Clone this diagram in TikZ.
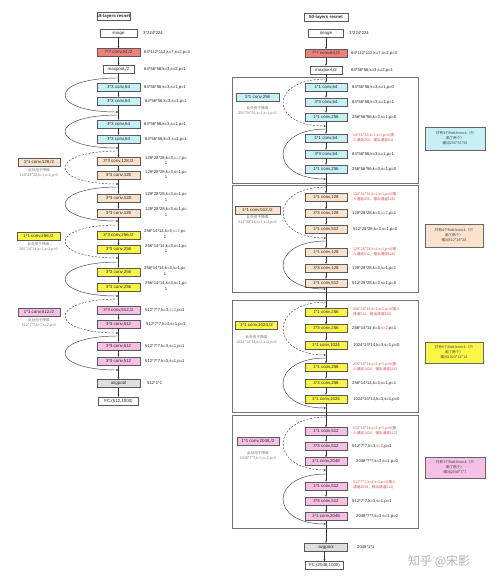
\documentclass[tikz,border=0pt]{standalone}
\usepackage{fontspec}
\setmainfont{Liberation Sans}
\newfontfamily\cjk{Noto Sans CJK SC}
\usetikzlibrary{arrows.meta}
\definecolor{cRed}{RGB}{240,128,128}
\definecolor{cCyan}{RGB}{198,240,245}
\definecolor{cOrg}{RGB}{250,226,204}
\definecolor{cYel}{RGB}{250,246,70}
\definecolor{cPink}{RGB}{245,192,228}
\definecolor{cGray}{RGB}{222,222,222}
\definecolor{tRed}{RGB}{215,80,80}
\definecolor{tGray}{RGB}{120,120,120}
\newcommand\fsA{\fontsize{4.4}{5}\selectfont}
\newcommand\fsB{\fontsize{4.2}{5.2}\selectfont}
\newcommand\fsC{\fontsize{3.6}{5}\selectfont}
\newcommand\rs[1]{\textcolor{tRed}{#1}}
\begin{document}
\begin{tikzpicture}[x=1pt,y=-1pt,
  blk/.style={draw=black!65, line width=0.4pt, minimum height=8pt, inner sep=0pt, font=\fsA, text=black!85},
  wb/.style={blk, fill=white},
  rb/.style={blk, fill=cRed, minimum width=43pt},
  cb/.style={blk, fill=cCyan, minimum width=43pt},
  ob/.style={blk, fill=cOrg, minimum width=43pt},
  yb/.style={blk, fill=cYel, minimum width=43pt},
  pb/.style={blk, fill=cPink, minimum width=43pt},
  gb/.style={blk, fill=cGray, minimum width=43pt},
  lbl/.style={anchor=west, font=\fsB, inner sep=0pt, text=black!85, align=center},
  rlbl/.style={anchor=west, font=\fsC\cjk, inner sep=0pt, text=tRed, align=left},
  side/.style={font=\fsC\cjk, inner sep=0pt, text=tGray, align=center},
  note/.style={draw=black!60, line width=0.4pt, font=\fsC\cjk, align=center, inner sep=1pt, text=black!75},
  grp/.style={draw=black!55, line width=0.5pt},
  arr/.style={-{Stealth[length=2.2pt,width=1.8pt]}, line width=0.4pt, draw=black!80},
  skp/.style={-{Stealth[length=2.4pt,width=2pt]}, line width=0.45pt, draw=black!75},
  dskp/.style={skp, dash pattern=on 2pt off 1.5pt}
]
\useasboundingbox (0,0) rectangle (500,584);
\fill[white] (0,0) rectangle (500,584);

% ================= LEFT: 18 layers =================
\node[wb, minimum width=33pt, minimum height=8pt, font=\fsA\bfseries] (Lt) at (113.5,16.5) {18-layers resnet};
\node[wb, minimum width=37pt] (Li) at (118.5,33) {image};
\node[rb] (Lc7) at (118.5,52.5) {7*7 conv,64,/2};
\node[wb, minimum width=31pt] (Lmp) at (118.5,69.5) {maxpool,/2};
\node[cb] (La1) at (118.5,87) {3*3 conv,64};
\node[cb] (La2) at (118.5,101) {3*3 conv,64};
\node[cb] (La3) at (118.5,124) {3*3 conv,64};
\node[cb] (La4) at (118.5,139) {3*3 conv,64};
\node[ob] (Lb1) at (118.5,161.5) {3*3 conv,128,/2};
\node[ob] (Lb2) at (118.5,175.5) {3*3 conv,128};
\node[ob] (Lb3) at (118.5,198) {3*3 conv,128};
\node[ob] (Lb4) at (118.5,213) {3*3 conv,128};
\node[yb] (Lc1) at (118.5,235) {3*3 conv,256,/2};
\node[yb] (Lc2) at (118.5,249.5) {3*3 conv,256};
\node[yb] (Lc3) at (118.5,272) {3*3 conv,256};
\node[yb] (Lc4) at (118.5,287) {3*3 conv,256};
\node[pb] (Ld1) at (118.5,310) {3*3 conv,512,/2};
\node[pb] (Ld2) at (118.5,324) {3*3 conv,512};
\node[pb] (Ld3) at (118.5,346) {3*3 conv,512};
\node[pb] (Ld4) at (118.5,361) {3*3 conv,512};
\node[gb] (Lap) at (118.5,383.5) {avgpool};
\node[wb, minimum width=40pt] (Lfc) at (118.5,401) {FC,(512,1000)};

\foreach \a/\b in {Li/Lc7,Lc7/Lmp,Lmp/La1,La1/La2,La2/La3,La3/La4,La4/Lb1,Lb1/Lb2,Lb2/Lb3,Lb3/Lb4,Lb4/Lc1,Lc1/Lc2,Lc2/Lc3,Lc3/Lc4,Lc4/Ld1,Ld1/Ld2,Ld2/Ld3,Ld3/Ld4,Ld4/Lap,Lap/Lfc}
  \draw[arr] (\a) -- (\b);

% labels
\node[lbl] (lLi) at (143,33) {3*224*224};
\node[lbl] (lLc7) at (144,52.5) {64*112*112,k=7,s=2,p=3};
\node[lbl] (lLmp) at (144,69.5) {64*56*56,k=3,s=2,p=1};
\node[lbl] (lLa1) at (144,87) {64*56*56,k=3,s=1,p=1};
\node[lbl] (lLa2) at (145,101) {64*56*56,k=3,s=1,p=1};
\node[lbl] (lLa3) at (144,124) {64*56*56,k=3,s=1,p=1};
\node[lbl] (lLa4) at (145,139) {64*56*56,k=3,s=1,p=1};
\node[lbl] (lLb1) at (145,160.5) {128*28*28,k=3,\rs{s=2},p=\\1};
\node[lbl] (lLb2) at (145,174.5) {128*28*28,k=3,s=1,p=\\1};
\node[lbl] (lLb3) at (145,197) {128*28*28,k=3,s=1,p=\\1};
\node[lbl] (lLb4) at (145,212) {128*28*28,k=3,s=1,p=\\1};
\node[lbl] (lLc1) at (144,234) {256*14*14,k=3,\rs{s=2},p=\\1};
\node[lbl] (lLc2) at (145,248.5) {256*14*14,k=3,s=1,p=\\1};
\node[lbl] (lLc3) at (144,271) {256*14*14,k=3,s=1,p=\\1};
\node[lbl] (lLc4) at (145,286) {256*14*14,k=3,s=1,p=\\1};
\node[lbl] (lLd1) at (145,310) {512*7*7,k=3,\rs{s=2},p=1};
\node[lbl] (lLd2) at (146,324) {512*7*7,k=3,s=1,p=1};
\node[lbl] (lLd3) at (145,346) {512*7*7,k=3,s=1,p=1};
\node[lbl] (lLd4) at (145,361) {512*7*7,k=3,s=1,p=1};
\node[lbl] (lLap) at (147,383.5) {512*1*1};

% side boxes
\node[ob, minimum width=42pt] (Ls1) at (39,162) {1*1 conv,128,/2};
\node[side] (Ls1t) at (39,172.5) {此处用于降维\\128*28*28,k=1,s=2,p=0};
\node[yb, minimum width=43pt] (Ls2) at (38.5,236.5) {1*1 conv,256,/2};
\node[side] (Ls2t) at (38.5,247) {此处用于降维\\256*14*14,k=1,s=2,p=0};
\node[pb, minimum width=42pt] (Ls3) at (39,312) {1*1 conv,512,/2};
\node[side] (Ls3t) at (39,323) {此处用于降维\\512*7*7,k=1,s=2,p=0};

% skip curves left
\coordinate (k1s) at (118.5,78);  \coordinate (k1e) at (118.5,112);
\coordinate (k2s) at (118.5,115); \coordinate (k2e) at (118.5,148);
\coordinate (k3s) at (118.5,151); \coordinate (k3e) at (118.5,184);
\coordinate (k4s) at (118.5,187); \coordinate (k4e) at (118.5,221);
\coordinate (k5s) at (118.5,225); \coordinate (k5e) at (118.5,258);
\coordinate (k6s) at (118.5,262); \coordinate (k6e) at (118.5,296);
\coordinate (k7s) at (118.5,299); \coordinate (k7e) at (118.5,333);
\coordinate (k8s) at (118.5,336); \coordinate (k8e) at (118.5,370);
\draw[skp]  (k1s) .. controls +(-71,0) and +(-71,0) .. (k1e);
\draw[skp]  (k2s) .. controls +(-71,0) and +(-71,0) .. (k2e);
\draw[dskp] (k3s) .. controls +(-71,0) and +(-71,0) .. (k3e);
\draw[skp]  (k4s) .. controls +(-71,0) and +(-71,0) .. (k4e);
\draw[dskp] (k5s) .. controls +(-71,0) and +(-71,0) .. (k5e);
\draw[skp]  (k6s) .. controls +(-71,0) and +(-71,0) .. (k6e);
\draw[dskp] (k7s) .. controls +(-71,0) and +(-71,0) .. (k7e);
\draw[skp]  (k8s) .. controls +(-71,0) and +(-71,0) .. (k8e);

% ================= RIGHT: 50 layers =================
\draw[grp] (232,77) rectangle (418,183);
\draw[grp] (232,185) rectangle (418,292);
\draw[grp] (232,300) rectangle (418,412);
\draw[grp] (232,415) rectangle (418,528);

\node[wb, minimum width=44pt, font=\fsA\bfseries] (Rt) at (326,17) {50-layers resnet};
\node[wb, minimum width=35pt] (Ri) at (326,33) {image};
\node[rb, minimum width=42pt] (Rc7) at (326,53.5) {7*7 conv,64,/2};
\node[wb, minimum width=32pt] (Rmp) at (326,70) {maxpool,/2};

\node[cb, minimum width=42pt] (Ra1) at (326,87) {1*1 conv,64};
\node[cb, minimum width=42pt] (Ra2) at (326,102) {3*3 conv,64};
\node[cb, minimum width=42pt] (Ra3) at (326,117) {1*1 conv,256};
\node[cb, minimum width=42pt] (Ra4) at (326,138) {1*1 conv,64};
\node[cb, minimum width=42pt] (Ra5) at (326,154) {3*3 conv,64};
\node[cb, minimum width=42pt] (Ra6) at (326,169) {1*1 conv,256};

\node[ob, minimum width=42pt] (Rb1) at (326,197.5) {1*1 conv,128};
\node[ob, minimum width=42pt] (Rb2) at (326,213.5) {3*3 conv,128};
\node[ob, minimum width=42pt] (Rb3) at (326,229) {1*1 conv,512};
\node[ob, minimum width=42pt] (Rb4) at (326,252.5) {1*1 conv,128};
\node[ob, minimum width=42pt] (Rb5) at (326,268) {3*3 conv,128};
\node[ob, minimum width=42pt] (Rb6) at (326,283) {1*1 conv,512};

\node[yb, minimum width=42pt] (Rc1) at (326,312.5) {1*1 conv,256};
\node[yb, minimum width=42pt] (Rc2) at (326,328.5) {3*3 conv,256};
\node[yb, minimum width=42pt] (Rc3) at (326,345) {1*1 conv,1024};
\node[yb, minimum width=42pt] (Rc4) at (326,367.5) {1*1 conv,256};
\node[yb, minimum width=42pt] (Rc5) at (326,383) {3*3 conv,256};
\node[yb, minimum width=42pt] (Rc6) at (326,399) {1*1 conv,1024};

\node[pb, minimum width=42pt] (Rd1) at (326,431.5) {1*1 conv,512};
\node[pb, minimum width=42pt] (Rd2) at (326,446) {3*3 conv,512};
\node[pb, minimum width=42pt] (Rd3) at (326,461.5) {1*1 conv,2048};
\node[pb, minimum width=42pt] (Rd4) at (326,486) {1*1 conv,512};
\node[pb, minimum width=42pt] (Rd5) at (326,501) {3*3 conv,512};
\node[pb, minimum width=42pt] (Rd6) at (326,516.5) {1*1 conv,2048};

\node[gb, minimum width=43pt] (Rap) at (326,547) {avgpool};
\node[wb, minimum width=38pt] (Rfc) at (324.5,565.5) {FC,(2048,1000)};

\foreach \a/\b in {Ri/Rc7,Rc7/Rmp,Rmp/Ra1,Ra1/Ra2,Ra2/Ra3,Ra3/Ra4,Ra4/Ra5,Ra5/Ra6,Ra6/Rb1,Rb1/Rb2,Rb2/Rb3,Rb3/Rb4,Rb4/Rb5,Rb5/Rb6,Rb6/Rc1,Rc1/Rc2,Rc2/Rc3,Rc3/Rc4,Rc4/Rc5,Rc5/Rc6,Rc6/Rd1,Rd1/Rd2,Rd2/Rd3,Rd3/Rd4,Rd4/Rd5,Rd5/Rd6,Rd6/Rap}
  \draw[arr] (\a) -- (\b);
\draw[arr] (Rap.south -| Rfc.north) -- (Rfc.north);

% labels right
\node[lbl] (lRi) at (349,33) {3*224*224};
\node[lbl] (lRc7) at (351,53.5) {64*112*112,k=7,s=2,p=3};
\node[lbl] (lRmp) at (351,70) {64*56*56,k=3,s=2,p=1};
\node[lbl] (lRa1) at (352,87) {64*56*56,k=3,s=1,p=0};
\node[lbl] (lRa2) at (352,102) {64*56*56,k=3,s=1,p=1};
\node[lbl] (lRa3) at (352,117) {256*56*56,k=3,s=1,p=0};
\node[rlbl] (lRa4) at (353,138) {64*56*56,k=1,s=1,p=0(输\\入通道256，输出通道64)};
\node[lbl] (lRa5) at (352,154) {64*56*56,k=3,s=1,p=1};
\node[lbl] (lRa6) at (352,169) {256*56*56,k=3,s=1,p=0};

\node[rlbl] (lRb1) at (353,196.5) {128*56*56,k=1,s=1,p=0(输\\入通道256，输出通道128)};
\node[lbl] (lRb2) at (352,213.5) {128*28*28,k=3,\rs{s=2},p=1};
\node[lbl] (lRb3) at (353,229) {512*28*28,k=3,s=1,p=0};
\node[rlbl] (lRb4) at (353,251.5) {128*28*28,k=1,s=1,p=0(输\\入通道512，输出通道128)};
\node[lbl] (lRb5) at (352,268) {128*28*28,k=3,s=1,p=1};
\node[lbl] (lRb6) at (352,283) {512*28*28,k=3,s=1,p=0};

\node[rlbl] (lRc1) at (353,311.5) {256*28*28,k=1,s=1,p=0(输入\\通道512，输出通道256)};
\node[lbl] (lRc2) at (352,328.5) {256*14*14,k=3,\rs{s=2},p=1};
\node[lbl] (lRc3) at (353,345) {1024*14*14,k=3,s=1,p=0};
\node[rlbl] (lRc4) at (353,366.5) {256*14*14,k=1,s=1,p=0(输\\入通道1024，输出通道256)};
\node[lbl] (lRc5) at (352,383) {256*14*14,k=3,s=1,p=1};
\node[lbl] (lRc6) at (353,399) {1024*14*14,k=3,s=1,p=0};

\node[rlbl] (lRd1) at (353,430.5) {512*14*14,k=1,s=1,p=0(输\\入通道1024，输出通道512)};
\node[lbl] (lRd2) at (352,446) {512*7*7,k=3,\rs{s=2},p=1};
\node[lbl] (lRd3) at (356,461.5) {2048*7*7,k=3,s=1,p=0};
\node[rlbl] (lRd4) at (353,485) {512*7*7,k=1,s=1,p=0(输入\\通道2048，输出通道512)};
\node[lbl] (lRd5) at (352,501) {512*7*7,k=3,s=1,p=1};
\node[lbl] (lRd6) at (356,516.5) {2048*7*7,k=3,s=1,p=0};
\node[lbl] (lRap) at (357,547) {2048*1*1};

% side boxes right
\node[cb, minimum width=43pt] (Rs1) at (257.5,97) {1*1 conv,256};
\node[side] (Rs1t) at (257.5,110.5) {此处用于降维\\256*56*56,k=1,s=1,p=0};
\node[ob, minimum width=45pt] (Rs2) at (257.5,210) {1*1 conv,512,/2};
\node[side] (Rs2t) at (257.5,219.5) {此处用于降维\\512*28*28,k=1,s=2,p=0};
\node[yb, minimum width=42pt] (Rs3) at (256.5,325.5) {1*1 conv,1024,/2};
\node[side] (Rs3t) at (256.5,339.5) {此处用于降维\\1024*14*14,k=1,s=2,p=0};
\node[pb, minimum width=42pt] (Rs4) at (258,441.5) {1*1 conv,2048,/2};
\node[side] (Rs4t) at (258,455.5) {此处用于降维\\2048*7*7,k=1,s=2,p=0};

% skip curves right
\coordinate (m1s) at (326,79);  \coordinate (m1e) at (326,126);
\coordinate (m2s) at (326,129); \coordinate (m2e) at (326,179);
\coordinate (m3s) at (326,187); \coordinate (m3e) at (326,238);
\coordinate (m4s) at (326,241); \coordinate (m4e) at (326,289);
\coordinate (m5s) at (326,302); \coordinate (m5e) at (326,355);
\coordinate (m6s) at (326,358); \coordinate (m6e) at (326,408);
\coordinate (m7s) at (326,417); \coordinate (m7e) at (326,470);
\coordinate (m8s) at (326,474); \coordinate (m8e) at (326,524);
\draw[dskp] (m1s) .. controls +(-57,0) and +(-57,0) .. (m1e);
\draw[skp]  (m2s) .. controls +(-57,0) and +(-57,0) .. (m2e);
\draw[dskp] (m3s) .. controls +(-57,0) and +(-57,0) .. (m3e);
\draw[skp]  (m4s) .. controls +(-57,0) and +(-57,0) .. (m4e);
\draw[dskp] (m5s) .. controls +(-57,0) and +(-57,0) .. (m5e);
\draw[skp]  (m6s) .. controls +(-57,0) and +(-57,0) .. (m6e);
\draw[dskp] (m7s) .. controls +(-57,0) and +(-57,0) .. (m7e);
\draw[skp]  (m8s) .. controls +(-57,0) and +(-57,0) .. (m8e);

% notes
\node[note, fill=cCyan, minimum width=60pt, minimum height=23pt] (N1) at (455,138.5) {共有3个Bottleneck（只\\画了两个）\\输出256*56*56};
\node[note, fill=cOrg, minimum width=58pt, minimum height=23pt] (N2) at (454,235.5) {共有4个Bottleneck（只\\画了两个）\\输出512*28*28};
\node[note, fill=cYel, minimum width=58pt, minimum height=21pt] (N3) at (454,352.5) {共有6个Bottleneck（只\\画了两个）\\输出1024*14*14};
\node[note, fill=cPink, minimum width=60pt, minimum height=21pt] (N4) at (455,467.5) {共有3个Bottleneck（只\\画了两个）\\输出2048*7*7};

% watermark
\node[font=\fontsize{12}{12}\selectfont\cjk, text=black!30, anchor=west, inner sep=0pt] (wm) at (408,561) {知乎 @宋影};
\end{tikzpicture}
\end{document}
